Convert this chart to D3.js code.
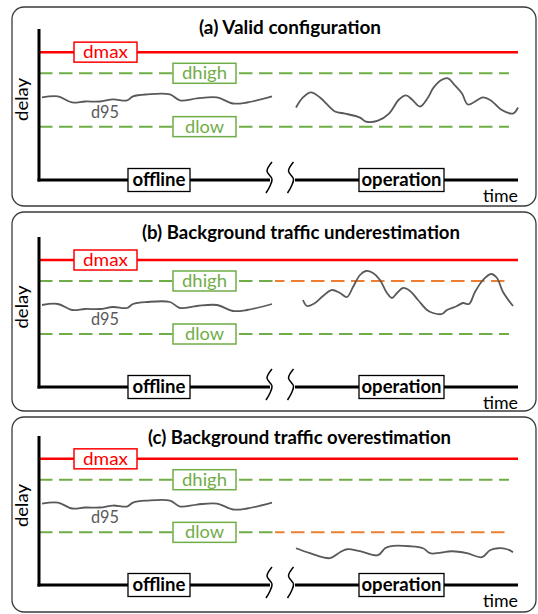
<!DOCTYPE html>
<html><head><meta charset="utf-8">
<script src="https://cdn.jsdelivr.net/npm/d3@7"></script>
<style>
body{margin:0;background:#fff}
svg{display:block}
text{font-family:Lato,'Open Sans',sans-serif}
</style>
</head><body>
<script>
// ---------------- data ----------------
const panelTitles = [
  "(a) Valid configuration",
  "(b) Background traffic underestimation",
  "(c) Background traffic overestimation"
];
const thresholdNames = ["dmax", "dhigh", "dlow"];
const thresholdDelays = [127, 106, 53];
const violatedThreshold = [null, "dhigh", "dlow"];
const phaseNames = ["offline", "operation"];
const xAxisLabel = "time";
const yAxisLabel = "delay";
const curveLabel = "d95";

// offline d95 (same in every panel)
const offlineTime = [3, 19, 33, 46, 61, 74, 88, 94, 108, 131, 141, 158, 178, 194, 208, 233];
const offlineD95  = [82, 83, 77, 78, 78, 80, 79, 83, 85, 85, 79, 81, 82, 76, 77, 83];

// operation d95, one list per panel
const operationTime = [
  [257, 264, 272, 281, 296, 306, 321, 327, 339, 350, 360, 367, 373, 381, 389, 394, 402, 409, 415, 423, 429, 444, 452, 462, 474, 479],
  [264, 268, 276, 284, 293, 301, 308, 314, 321, 327, 334, 341, 348, 353, 358, 364, 371, 379, 388, 394, 403, 408, 418, 424, 430, 436, 444, 452, 458, 464, 474],
  [257, 271, 291, 301, 308, 321, 339, 346, 351, 371, 384, 391, 398, 413, 428, 443, 451, 459, 468, 474]
];
const operationD95 = [
  [72, 82, 87, 82, 68, 66, 62, 58, 59, 66, 80, 84, 80, 73, 82, 91, 99, 101, 95, 86, 75, 82, 79, 70, 66, 72],
  [87, 81, 84, 91, 97, 94, 90, 100, 112, 116, 114, 107, 94, 89, 94, 99, 96, 87, 77, 74, 73, 77, 81, 84, 83, 95, 107, 113, 109, 95, 81],
  [37, 32, 27, 33, 36, 34, 30, 37, 39, 39, 37, 32, 32, 34, 32, 28, 35, 37, 36, 33]
];

// time extents (time units)
const timeDomain = [0, 480];
const breakStart = 231, breakEnd = 256, timeEnd = 479, dashEnd = 470, splitTime = 236;
const delayDomain = [0, 150];

// ---------------- layout ----------------
const W = 538, H = 614;
const panelTop = [7, 212, 417];
const panelH = [199, 199, 195];
const axisY = [180, 387, 585];
const axisTopY = [29, 237, 436];
const titleCx = [290, 301, 299.5];
const titleW = [182, 318, 303];
const labelCenterT = {dmax: 66.5, dhigh: 165.5, dlow: 165.5};
const labelTextW = {dmax: 45, dhigh: 45, dlow: 39};
const phaseCenterT = [120, 362.5];
const phaseBoxW = [62, 85];
const phaseTextW = [53, 80];

const RED = "#ff0000", GREEN = "#70ad47", ORANGE = "#ed7d31", GRAY = "#595959";
const colorOf = {dmax: RED, dhigh: GREEN, dlow: GREEN};

const x = d3.scaleLinear().domain(timeDomain).range([39, 519]);

const svg = d3.select("body").append("svg").attr("width", W).attr("height", H);

function fit(sel, w) { return sel.attr("textLength", w).attr("lengthAdjust", "spacingAndGlyphs"); }

panelTitles.forEach((title, p) => {
  const y = d3.scaleLinear().domain(delayDomain).range([axisY[p], axisTopY[p]]);
  const g = svg.append("g");

  // panel frame
  g.append("rect").attr("x", 12).attr("y", panelTop[p]).attr("width", 524).attr("height", panelH[p])
    .attr("rx", 12).attr("fill", "#fff").attr("stroke", "#3a3a3a").attr("stroke-width", 1.3);

  // title
  fit(g.append("text").attr("x", titleCx[p]).attr("y", panelTop[p] + 26.5)
    .attr("text-anchor", "middle").attr("font-weight", "bold").attr("font-size", 18)
    .attr("fill", "#000").text(title), titleW[p]);

  // threshold lines
  thresholdNames.forEach((name, i) => {
    const yy = y(thresholdDelays[i]);
    if (name === "dmax") {
      g.append("line").attr("x1", x(0)).attr("x2", x(timeEnd)).attr("y1", yy).attr("y2", yy)
        .attr("stroke", RED).attr("stroke-width", 2.5);
    } else {
      const violated = violatedThreshold[p] === name;
      const segs = violated ? [[0, splitTime, GREEN], [splitTime, dashEnd, ORANGE]] : [[0, dashEnd, GREEN]];
      segs.forEach(([a, b, c]) => {
        g.append("line").attr("x1", x(a)).attr("x2", x(b)).attr("y1", yy).attr("y2", yy)
          .attr("stroke", c).attr("stroke-width", 2)
          .attr("stroke-dasharray", "13.5,6.5")
          .attr("stroke-dashoffset", -(x(a) - x(0)));
      });
    }
  });

  // d95 curves
  const line = d3.line().x(d => x(d[0])).y(d => y(d[1])).curve(d3.curveCatmullRom.alpha(0.5));
  g.append("path").datum(offlineTime.map((t, i) => [t, offlineD95[i]]))
    .attr("d", line).attr("fill", "none").attr("stroke", GRAY).attr("stroke-width", 1.8);
  g.append("path").datum(operationTime[p].map((t, i) => [t, operationD95[p][i]]))
    .attr("d", line).attr("fill", "none").attr("stroke", GRAY).attr("stroke-width", 1.8);

  fit(g.append("text").attr("x", x(52)).attr("y", y(62)).attr("font-size", 18)
    .attr("fill", GRAY).text(curveLabel), 28);

  // threshold labels (boxes)
  thresholdNames.forEach((name, i) => {
    const yy = y(thresholdDelays[i]);
    const cx = x(labelCenterT[name]);
    g.append("rect").attr("x", cx - 31.5).attr("y", yy - 10).attr("width", 63).attr("height", 20)
      .attr("fill", "#fff").attr("stroke", colorOf[name]).attr("stroke-width", 1.5);
    fit(g.append("text").attr("x", cx).attr("y", yy + 6).attr("text-anchor", "middle")
      .attr("font-size", 18).attr("fill", colorOf[name]).text(name), labelTextW[name]);
  });

  // axes
  const ay = axisY[p];
  g.append("line").attr("x1", x(0)).attr("x2", x(0)).attr("y1", ay + 1.5).attr("y2", y(delayDomain[1]))
    .attr("stroke", "#000").attr("stroke-width", 3);
  [[0, breakStart], [breakEnd, timeEnd]].forEach(([a, b]) => {
    g.append("line").attr("x1", x(a) - (a === 0 ? 1.5 : 0)).attr("x2", x(b)).attr("y1", ay).attr("y2", ay)
      .attr("stroke", "#000").attr("stroke-width", 3);
  });

  // break squiggles
  const sq = d3.line().curve(d3.curveCatmullRom.alpha(0.5));
  [x(breakStart), x(breakEnd) - 3.5].forEach(cx => {
    const pts = [[cx + 2, ay - 18], [cx - 3, ay - 9], [cx + 2, ay - 1], [cx, ay + 6], [cx - 4, ay + 13]];
    g.append("path").attr("d", sq(pts)).attr("fill", "none").attr("stroke", "#000").attr("stroke-width", 1.5);
  });

  // phase boxes
  phaseNames.forEach((name, i) => {
    const cx = x(phaseCenterT[i]);
    g.append("rect").attr("x", cx - phaseBoxW[i] / 2).attr("y", ay - 11.5)
      .attr("width", phaseBoxW[i]).attr("height", 23)
      .attr("fill", "#fff").attr("stroke", "#000").attr("stroke-width", 1.3);
    fit(g.append("text").attr("x", cx).attr("y", ay + 6).attr("text-anchor", "middle")
      .attr("font-size", 18).attr("font-weight", "bold").attr("fill", "#000").text(name), phaseTextW[i]);
  });

  // axis labels
  fit(g.append("text").attr("x", x(timeEnd)).attr("y", ay + 22).attr("text-anchor", "end")
    .attr("font-size", 18).attr("fill", "#000").text(xAxisLabel), 35);
  fit(g.append("text").attr("transform", `translate(28,${y(80)}) rotate(-90)`)
    .attr("text-anchor", "middle").attr("font-size", 18).attr("fill", "#000").text(yAxisLabel), 43);
});
</script>
</body></html>
